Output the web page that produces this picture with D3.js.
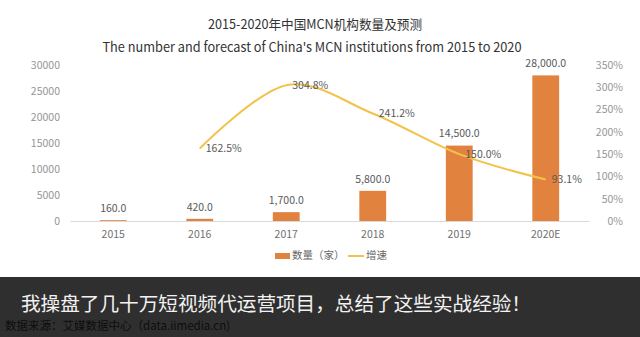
<!DOCTYPE html>
<html>
<head>
<meta charset="utf-8">
<script src="https://cdn.jsdelivr.net/npm/d3@7"></script>
<style>
  html, body { margin: 0; padding: 0; background: #fff; }
  svg { display: block; font-family: "Noto Sans CJK SC", "Noto Sans", sans-serif; }
</style>
</head>
<body>
<svg id="chart" width="640" height="337"></svg>
<script>
// Number of MCN institutions in China and year-on-year growth
const years = ["2015", "2016", "2017", "2018", "2019", "2020E"];
const counts = [160, 420, 1700, 5800, 14500, 28000];
const growth = [null, 162.5, 304.8, 241.2, 150.0, 93.1];
const leftTicks = [0, 5000, 10000, 15000, 20000, 25000, 30000];
const rightTicks = [0, 50, 100, 150, 200, 250, 300, 350];

const titleCn = "2015-2020年中国MCN机构数量及预测";
const titleEn = "The number and forecast of China's MCN institutions from 2015 to 2020";
const legendLabels = ["数量（家）", "增速"];
const sourceText = "数据来源：艾媒数据中心（data.iimedia.cn)";
const bannerText = "我操盘了几十万短视频代运营项目，总结了这些实战经验！";

const barColor = "#E2823F";
const lineColor = "#F3C24B";

const svg = d3.select("#chart");
const plot = { left: 70, right: 589, top: 65, bottom: 221 };

const x = d3.scaleBand().domain(years).range([plot.left, plot.right]).padding(0);
const yL = d3.scaleLinear().domain([0, 30000]).range([plot.bottom, plot.top]);
const yR = d3.scaleLinear().domain([0, 350]).range([plot.bottom, plot.top]);
const barW = x.bandwidth() * 0.31;
const cx = d => x(d) + x.bandwidth() / 2;

// Titles
svg.append("text").attr("x", 315).attr("y", 25).attr("text-anchor", "middle")
  .attr("dominant-baseline", "middle").attr("font-size", 13).attr("fill", "#333")
  .attr("textLength", 214).attr("lengthAdjust", "spacingAndGlyphs")
  .text(titleCn);
svg.append("text").attr("x", 312).attr("y", 48).attr("text-anchor", "middle")
  .attr("dominant-baseline", "middle").attr("font-size", 13.5).attr("fill", "#333")
  .attr("textLength", 419).attr("lengthAdjust", "spacingAndGlyphs")
  .text(titleEn);

// Left axis
const axL = svg.append("g").attr("transform", `translate(${plot.left - 10},0)`)
  .call(d3.axisLeft(yL).tickValues(leftTicks).tickSize(0).tickPadding(0).tickFormat(d3.format("d")));
axL.select(".domain").remove();
axL.selectAll("text").attr("font-size", 10.5).attr("fill", "#959595")
  .attr("font-family", "Noto Sans CJK SC");

// Right axis
const axR = svg.append("g").attr("transform", `translate(${plot.right + 34},0)`)
  .call(d3.axisRight(yR).tickValues(rightTicks).tickSize(0).tickPadding(0).tickFormat(d => d + "%"));
axR.select(".domain").remove();
axR.selectAll("text").attr("font-size", 10.5).attr("fill", "#959595")
  .attr("text-anchor", "end").attr("font-family", "Noto Sans CJK SC");

// Bottom axis
const axB = svg.append("g").attr("transform", `translate(0,${plot.bottom})`)
  .call(d3.axisBottom(x).tickSize(0).tickPadding(10));
axB.select(".domain").attr("stroke", "#d9d9d9").attr("stroke-width", 1);
axB.selectAll("text").attr("font-size", 10.5).attr("fill", "#707070")
  .attr("font-family", "Noto Sans CJK SC");

// Bars
svg.append("g").selectAll("rect").data(years).join("rect")
  .attr("x", (d) => cx(d) - barW / 2)
  .attr("width", barW)
  .attr("y", (d, i) => yL(counts[i]))
  .attr("height", (d, i) => plot.bottom - yL(counts[i]))
  .attr("fill", barColor);

// Bar labels
svg.append("g").selectAll("text").data(years).join("text")
  .attr("x", d => cx(d))
  .attr("y", (d, i) => yL(counts[i]) - 11)
  .attr("text-anchor", "middle").attr("dominant-baseline", "middle")
  .attr("font-size", 10.5).attr("fill", "#595959")
  .text((d, i) => d3.format(",.1f")(counts[i]));

// Growth line
const pts = years.map((d, i) => ({ year: d, v: growth[i] })).filter(p => p.v !== null);
const line = d3.line().x(p => cx(p.year)).y(p => yR(p.v)).curve(d3.curveCardinal.tension(0));
svg.append("path").datum(pts).attr("d", line)
  .attr("fill", "none").attr("stroke", lineColor).attr("stroke-width", 2);

// Growth labels
svg.append("g").selectAll("text").data(pts).join("text")
  .attr("x", p => cx(p.year) + 6)
  .attr("y", p => yR(p.v) + 1)
  .attr("dominant-baseline", "middle")
  .attr("font-size", 10.5).attr("fill", "#595959")
  .text(p => d3.format(".1f")(p.v) + "%");

// Legend
const lg = svg.append("g");
lg.append("rect").attr("x", 275).attr("y", 253).attr("width", 15).attr("height", 6).attr("fill", barColor);
lg.append("text").attr("x", 292).attr("y", 256.5).attr("dominant-baseline", "middle")
  .attr("font-size", 10.5).attr("fill", "#666").text(legendLabels[0]);
lg.append("line").attr("x1", 348).attr("x2", 364).attr("y1", 256).attr("y2", 256)
  .attr("stroke", lineColor).attr("stroke-width", 2);
lg.append("text").attr("x", 366).attr("y", 256.5).attr("dominant-baseline", "middle")
  .attr("font-size", 10.5).attr("fill", "#666").text(legendLabels[1]);

// Source note
svg.append("text").attr("x", 5).attr("y", 327).attr("dominant-baseline", "middle")
  .attr("font-size", 11.5).attr("fill", "#4a4a4a").text(sourceText);

// Caption banner
svg.append("rect").attr("x", 0).attr("y", 277).attr("width", 640).attr("height", 60)
  .attr("fill", "#000").attr("opacity", 0.815);
svg.append("text").attr("x", 21).attr("y", 306).attr("dominant-baseline", "middle")
  .attr("font-size", 19.5).attr("fill", "#f2f2f2")
  .attr("textLength", 510).attr("lengthAdjust", "spacingAndGlyphs")
  .text(bannerText);
</script>
</body>
</html>
